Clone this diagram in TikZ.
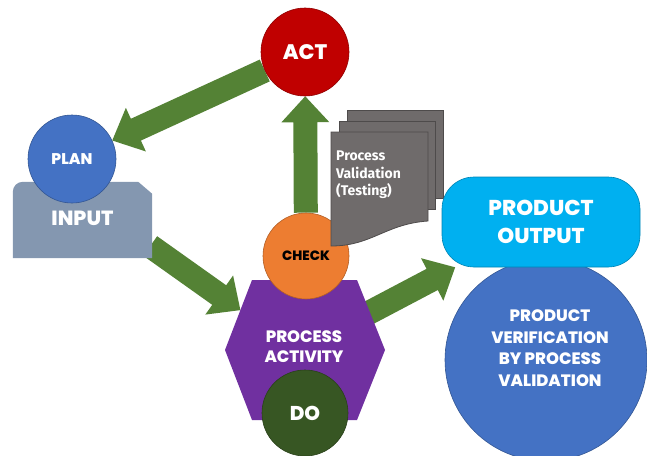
\documentclass[tikz,border=0pt]{standalone}
\usepackage{fontspec}
\setmainfont{Poppins}[BoldFont={Poppins ExtraBold}]
\newfontfamily\docfont{Fira Sans}
\usetikzlibrary{calc,backgrounds}

\definecolor{actred}{HTML}{C00000}
\definecolor{planblue}{HTML}{4472C4}
\definecolor{inputgray}{HTML}{8497B0}
\definecolor{flowgreen}{HTML}{548235}
\definecolor{checkorange}{HTML}{ED7D31}
\definecolor{procpurple}{HTML}{7030A0}
\definecolor{dogreen}{HTML}{375623}
\definecolor{outcyan}{HTML}{00B0F0}
\definecolor{docgray}{HTML}{6F6B6B}
\definecolor{docedge}{HTML}{4E4B4B}

\tikzset{
  stage/.style={circle, fill=#1, draw=#1!75!black, line width=0.6pt,
    inner sep=0pt, text=white},
  lbl/.style={text=white, align=center, inner sep=0pt},
  page/.style={fill=docgray, draw=docedge, line width=0.8pt},
}

% thick block arrow between two nodes/coordinates
\newcommand\blockarrow[2]{%
  \path (#1) -- (#2) coordinate[pos=0] (ba-s) coordinate[pos=1] (ba-e);
  \coordinate (ba-b) at ($(ba-e)!26pt!(ba-s)$);
  \fill[flowgreen]
    ($(ba-s)!12pt!90:(ba-e)$) -- ($(ba-b)!12pt!-90:(ba-s)$) --
    ($(ba-b)!24pt!-90:(ba-s)$) -- (ba-e) -- ($(ba-b)!24pt!90:(ba-s)$) --
    ($(ba-b)!12pt!90:(ba-s)$) -- ($(ba-s)!12pt!-90:(ba-e)$) -- cycle;
}

\begin{document}
\begin{tikzpicture}[x=1pt,y=-1pt]
\useasboundingbox (0,0) rectangle (647,455);

% INPUT card with a cut corner
\node[minimum width=139pt, minimum height=76pt, inner sep=0pt] (input) at (82.5,220) {};
\fill[inputgray] (input.south west) [rounded corners=10pt] -- (input.north west)
  [sharp corners] -- ($(input.north east)+(-14,0)$) -- ($(input.north east)+(0,12)$)
  -- (input.south east) -- cycle;
\node[lbl, font=\bfseries\fontsize{20.5}{24}\selectfont] at ($(input)+(0,-2)$) {INPUT};

% PLAN
\node[stage=planblue, minimum size=88pt, font=\bfseries\fontsize{15.5}{18}\selectfont] (plan) at (72,159) {PLAN};

% PROCESS ACTIVITY hexagon
\coordinate (hx-l) at (225,350);
\coordinate (hx-tl) at (252,280);
\coordinate (hx-tr) at (357,280);
\coordinate (hx-r) at (385,350);
\coordinate (hx-br) at (357,420);
\coordinate (hx-bl) at (252,420);
\fill[procpurple] (hx-l) -- (hx-tl) -- (hx-tr) -- (hx-r) -- (hx-br) -- (hx-bl) -- cycle;
\coordinate (procin) at ($(hx-l)!0.57!(hx-tl)$);
\node[lbl, font=\bfseries\fontsize{16.5}{20}\selectfont] (proc) at (304,347) {PROCESS\\ACTIVITY};

% CHECK
\node[stage=checkorange, minimum size=86pt, text=black, font=\bfseries\fontsize{13.5}{16}\selectfont] (check) at (306,256) {CHECK};

% stacked Process Validation sheets
\filldraw[page] (347,110) rectangle (443,198);
\filldraw[page] (339,121) rectangle (435,209);
\filldraw[page] (331,132) -- (428,132) -- (428,221)
  .. controls (385,224) and (372,246) .. (331,246) -- cycle;
\node[anchor=north west, text=white, align=left, inner sep=0pt,
  font=\docfont\bfseries\fontsize{14}{17.5}\selectfont] (doc) at (336,151)
  {Process\\Validation\\(Testing)};

% DO
\node[stage=dogreen, minimum size=86pt, font=\bfseries\fontsize{20}{22}\selectfont] (do) at (305,413) {DO};

% PRODUCT VERIFICATION circle and PRODUCT OUTPUT bar
\node[stage=planblue, minimum size=202pt] (verif) at (546,360) {};
\node[lbl, font=\bfseries\fontsize{16.5}{21.5}\selectfont] (veriftext) at ($(verif)+(4,-12)$)
  {PRODUCT\\VERIFICATION\\BY PROCESS\\VALIDATION};
\node[rectangle, rounded corners=32pt, fill=outcyan, draw=outcyan!75!black, line width=0.6pt,
  minimum width=198pt, minimum height=90pt, lbl,
  font=\bfseries\fontsize{21.5}{28}\selectfont] (out) at (541,222) {PRODUCT\\OUTPUT};

% ACT
\node[stage=actred, minimum size=88pt, font=\bfseries\fontsize{21}{24}\selectfont] (act) at (305,52) {ACT};

% flow arrows, behind all shapes
\begin{pgfonlayer}{background}
  \blockarrow{act}{plan}
  \blockarrow{$(input.east)+(-2,26)$}{procin}
  \blockarrow{check}{act}
  \blockarrow{proc}{out}
\end{pgfonlayer}
\end{tikzpicture}
\end{document}
